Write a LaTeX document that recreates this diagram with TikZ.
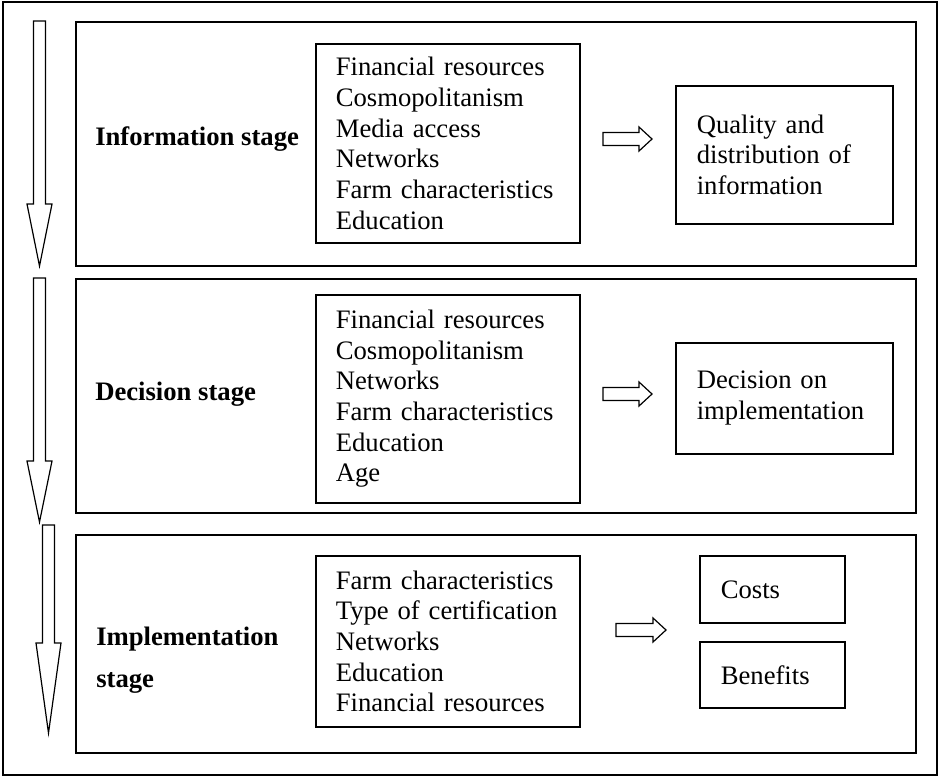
\documentclass[tikz,border=0pt]{standalone}
\usepackage{fontspec}
\setmainfont{Liberation Serif}

\begin{document}
\begin{tikzpicture}[x=0.75pt,y=-0.75pt,
  txt/.style={font=\fontsize{20}{23}\selectfont},
  stagebox/.style={draw,line width=1.2pt,anchor=north west,minimum width=630pt,inner sep=0pt},
  listbox/.style={draw,line width=1.2pt,anchor=north west,minimum width=198pt,text width=168pt,
    inner xsep=15pt,inner ysep=0pt,align=left,txt},
  resultbox/.style={draw,line width=1.2pt,anchor=north west,inner xsep=15.75pt,inner ysep=0pt,
    align=left,txt},
  stagelabel/.style={anchor=base west,inner sep=0pt,align=left,font=\bfseries\fontsize{20}{31.5}\selectfont},
  blockarrow/.style={draw,line width=0.9pt,line join=miter}]
\useasboundingbox (0,0) rectangle (939,776);
% frame
\draw[line width=0.8pt] (3,2) rectangle (937,775);

% stages
\node[stagebox,minimum height=183pt] (info) at (75,21) {};
\node[stagebox,minimum height=175.5pt] (decision) at (75,278) {};
\node[stagebox,minimum height=163.5pt] (impl) at (75,534) {};

\node[stagelabel] (infolabel) at (95,145) {Information stage};
\node[stagelabel] (decisionlabel) at (95,400) {Decision stage};
\node[stagelabel] (impllabel) at (96,687) {Implementation\\stage};

% factors
\node[listbox,minimum height=149.25pt] (infofactors) at (315,43)
  {Financial resources\\Cosmopolitanism\\Media access\\Networks\\Farm characteristics\\Education};
\node[listbox,minimum height=156pt] (decisionfactors) at (315,294)
  {Financial resources\\Cosmopolitanism\\Networks\\Farm characteristics\\Education\\Age};
\node[listbox,minimum height=128.25pt] (implfactors) at (315,555)
  {Farm characteristics\\Type of certification\\Networks\\Education\\Financial resources};

% outcomes
\node[resultbox,minimum width=162.75pt,text width=131.25pt,minimum height=103.5pt] (quality) at (675,85)
  {Quality and\\distribution of\\information};
\node[resultbox,minimum width=162.75pt,text width=131.25pt,minimum height=83.25pt] (choice) at (675,342)
  {Decision on\\implementation};
\node[resultbox,minimum width=108.75pt,text width=77.25pt,minimum height=50.25pt] (costs) at (699,555)
  {Costs};
\node[resultbox,minimum width=108.75pt,text width=77.25pt,minimum height=49.5pt] (benefits) at (699,641)
  {Benefits};

% down arrows
\foreach \cx/\ya/\yb/\yc in {39.5/21/204/266, 39.5/278/461/522, 48.5/525/643/733}
  \draw[blockarrow] (\cx-6,\ya) -- (\cx+6,\ya) -- (\cx+6,\yb) -- (\cx+12.5,\yb)
    -- (\cx,\yc) -- (\cx-12.5,\yb) -- (\cx-6,\yb) -- cycle;

% right arrows
\foreach \xa/\xb/\xc/\cy in {603/639/652/139, 603/639/652/394, 616/653/666/630}
  \draw[blockarrow] (\xa,\cy-6.5) -- (\xb,\cy-6.5) -- (\xb,\cy-12) -- (\xc,\cy)
    -- (\xb,\cy+12) -- (\xb,\cy+6.5) -- (\xa,\cy+6.5) -- cycle;
\end{tikzpicture}
\end{document}
